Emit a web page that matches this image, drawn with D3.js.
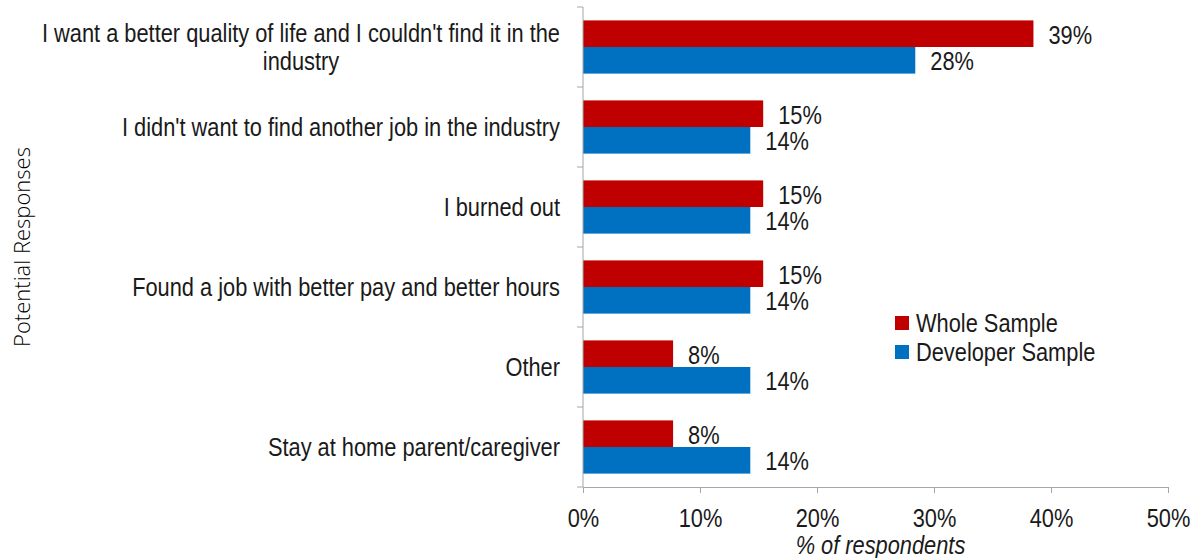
<!DOCTYPE html>
<html><head><meta charset="utf-8">
<script src="https://cdn.jsdelivr.net/npm/d3@7"></script>
<style>
body{margin:0;background:#fff}
text{font-family:"Liberation Sans",Arial,sans-serif;fill:#1a1a1a}
</style></head><body>
<svg id="c" width="1204" height="558"></svg>
<script>
const categories = [
  "I want a better quality of life and I couldn't find it in the|industry",
  "I didn't want to find another job in the industry",
  "I burned out",
  "Found a job with better pay and better hours",
  "Other",
  "Stay at home parent/caregiver"
];
const seriesNames = ["Whole Sample", "Developer Sample"];
const wholeSample = [38.5, 15.4, 15.4, 15.4, 7.7, 7.7];
const developerSample = [28.4, 14.3, 14.3, 14.3, 14.3, 14.3];
const xTicks = [0, 10, 20, 30, 40, 50];
const colors = ["#C00000", "#0070C0"];

const FS = "25.5px";
const NARROW = 0.855;
const svg = d3.select("#c");
const m = {left: 583, right: 1168, top: 7, bottom: 487};
const x = d3.scaleLinear().domain([0, 50]).range([m.left, m.right]);
const y = d3.scaleBand().domain(categories).range([m.top, m.bottom]).paddingInner(0.335).paddingOuter(0.1675);
const y1 = d3.scaleBand().domain([0, 1]).range([0, y.bandwidth()]);

const data = categories.map((c, i) => ({c, vals: [wholeSample[i], developerSample[i]]}));

// bars
const g = svg.append("g");
data.forEach(d => {
  d.vals.forEach((v, s) => {
    g.append("rect")
      .attr("x", x(0))
      .attr("y", y(d.c) + y1(s))
      .attr("width", x(v) - x(0))
      .attr("height", y1.bandwidth())
      .attr("fill", colors[s]);
    g.append("text").attr("class", "nar")
      .attr("x", x(v) + 15)
      .attr("y", y(d.c) + y1(s) + y1.bandwidth() / 2 + 1)
      .attr("dy", "0.35em")
      .style("font-size", FS)
      .text(Math.round(v) + "%");
  });
});

// x axis
const xAxis = svg.append("g").attr("transform", `translate(0,${m.bottom})`)
  .call(d3.axisBottom(x).tickValues(xTicks).tickFormat(d => d + "%").tickSize(6).tickSizeOuter(0).tickPadding(16));
xAxis.select(".domain").attr("stroke", "#a6a6a6");
xAxis.selectAll(".tick line").attr("stroke", "#a6a6a6");
xAxis.selectAll("text").attr("class", "nar").style("font-size", FS).style("font-family", '"Liberation Sans",Arial,sans-serif').attr("fill", "#1a1a1a");

// y axis line + ticks at band boundaries
const ya = svg.append("g");
ya.append("line").attr("x1", x(0)).attr("x2", x(0)).attr("y1", m.top).attr("y2", m.bottom).attr("stroke", "#a6a6a6");
const step = y.step();
d3.range(categories.length + 1).forEach(i => {
  const yy = m.top + i * step;
  ya.append("line").attr("x1", x(0) - 6).attr("x2", x(0)).attr("y1", yy).attr("y2", yy).attr("stroke", "#a6a6a6");
});

// category labels
const labelRight = 560;
categories.forEach(c => {
  const lines = c.split("|");
  const cy = y(c) + y.bandwidth() / 2;
  const lh = 28;
  const t = svg.append("g");
  const texts = lines.map((ln, j) => t.append("text")
    .attr("y", cy + (j - (lines.length - 1) / 2) * lh)
    .attr("dy", "0.35em")
    .style("font-size", FS)
    .text(ln));
  const widths = texts.map(tx => tx.node().getComputedTextLength() * NARROW);
  const maxW = d3.max(widths);
  const center = labelRight - maxW / 2;
  texts.forEach((tx, j) => tx.attr("x", center).attr("text-anchor", "middle")
    .attr("textLength", widths[j]).attr("lengthAdjust", "spacingAndGlyphs"));
});

// axis titles
svg.append("text").attr("class", "nar").attr("x", (x(0) + x(50)) / 2 + 5).attr("y", 545)
  .attr("text-anchor", "middle").attr("dy", "0.35em")
  .style("font-size", FS).style("font-style", "italic")
  .text("% of respondents");
svg.append("text").attr("transform", `translate(22,${(m.top + m.bottom) / 2}) rotate(-90)`)
  .attr("text-anchor", "middle").attr("dy", "0.35em")
  .style("font-size", "22px").style("font-family", '"Open Sans","Noto Sans",sans-serif').style("font-weight", "300")
  .style("fill", "#000")
  .text("Potential Responses");

// legend
const lg = svg.append("g");
seriesNames.forEach((n, i) => {
  const ly = 323 + i * 29;
  lg.append("rect").attr("x", 895).attr("y", ly - 7).attr("width", 14).attr("height", 14).attr("fill", colors[i]);
  lg.append("text").attr("class", "nar").attr("x", 916).attr("y", ly).attr("dy", "0.35em").style("font-size", FS).text(n);
});

// condense narrow texts
svg.selectAll("text.nar").each(function() {
  const w = this.getComputedTextLength() * NARROW;
  d3.select(this).attr("textLength", w).attr("lengthAdjust", "spacingAndGlyphs");
});
</script>
</body></html>
